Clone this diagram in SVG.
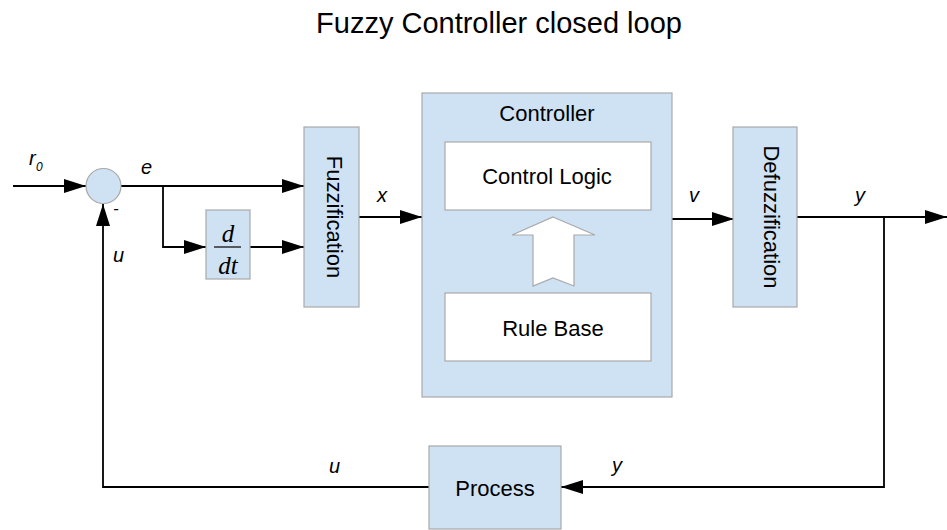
<svg xmlns="http://www.w3.org/2000/svg" width="947" height="530" viewBox="0 0 947 530">
  <style>
    .block { fill: #cfe2f3; stroke: #a9a9a9; stroke-width: 1.2; }
    .inner { fill: #ffffff; stroke: #a9a9a9; stroke-width: 1.2; }
    .wire { fill: none; stroke: #000000; stroke-width: 1.8; }
    .lbl { font-family: "Liberation Sans", Arial, sans-serif; font-size: 22px; fill: #000000; }
    .var { font-family: "Liberation Sans", Arial, sans-serif; font-size: 20px; font-style: italic; fill: #000000; }
    .var.sub { font-size: 12px; }
    .var.sign { font-size: 17px; }
    .math { font-family: "Liberation Serif", "Times New Roman", serif; font-size: 25px; font-style: italic; fill: #000000; }
    .title { font-family: "Liberation Sans", Arial, sans-serif; font-size: 29px; fill: #000000; }
  </style>
  <defs>
    <marker id="head" markerUnits="userSpaceOnUse" markerWidth="23" markerHeight="14" refX="22" refY="7" orient="auto">
      <path d="M0,0 L22,7 L0,14 z" fill="#000000"/>
    </marker>
  </defs>

  <rect width="947" height="530" fill="#ffffff"/>

  <text class="title" x="499" y="33" text-anchor="middle">Fuzzy Controller closed loop</text>

  <!-- signal wiring -->
  <g id="connectors">
    <line class="wire" x1="13" y1="186" x2="86" y2="186" marker-end="url(#head)"/>
    <line class="wire" x1="121" y1="186" x2="304" y2="186" marker-end="url(#head)"/>
    <polyline class="wire" points="163,186 163,247 206,247" marker-end="url(#head)"/>
    <line class="wire" x1="250" y1="247" x2="304" y2="247" marker-end="url(#head)"/>
    <line class="wire" x1="359" y1="217" x2="422" y2="217" marker-end="url(#head)"/>
    <line class="wire" x1="672" y1="219" x2="734" y2="219" marker-end="url(#head)"/>
    <line class="wire" x1="797" y1="217" x2="947" y2="217" marker-end="url(#head)"/>
    <polyline class="wire" points="884,217 884,487 561,487" marker-end="url(#head)"/>
    <polyline class="wire" points="429,487 103,487 103,204" marker-end="url(#head)"/>
  </g>

  <!-- signal names -->
  <g id="labels">
    <text class="var" x="29" y="165">r</text>
    <text class="var sub" x="36" y="171">0</text>
    <text class="var" x="141" y="174">e</text>
    <text class="var sign" x="113" y="214">-</text>
    <text class="var" x="113" y="262">u</text>
    <text class="var" x="377" y="202">x</text>
    <text class="var" x="689" y="202">v</text>
    <text class="var" x="855" y="202">y</text>
    <text class="var" x="612" y="472">y</text>
    <text class="var" x="329" y="473">u</text>
  </g>

  <g id="sum">
    <circle class="block" cx="103.5" cy="186" r="17.5"/>
  </g>

  <g id="derivative">
    <rect class="block" x="206" y="210" width="44" height="69"/>
    <text class="math" x="228" y="242" text-anchor="middle">d</text>
    <line x1="214" y1="247" x2="241" y2="247" stroke="#000000" stroke-width="1.2"/>
    <text class="math" x="228" y="274" text-anchor="middle">dt</text>
  </g>

  <g id="fuzzification">
    <rect class="block" x="304" y="127" width="55" height="180"/>
    <text class="lbl" transform="translate(327,217) rotate(90)" text-anchor="middle">Fuzzification</text>
  </g>

  <g id="controller">
    <rect class="block" x="422" y="93" width="250" height="304"/>
    <text class="lbl" x="547" y="121" text-anchor="middle">Controller</text>
    <g id="control-logic">
      <rect class="inner" x="445" y="142" width="206" height="68"/>
      <text class="lbl" x="547" y="184" text-anchor="middle">Control Logic</text>
    </g>
    <g id="rule-base">
      <rect class="inner" x="445" y="293" width="206" height="68"/>
      <text class="lbl" x="553" y="336" text-anchor="middle">Rule Base</text>
    </g>
    <path class="inner" d="M553,217 L595,235 L574,235 L574,286 L553,278 L533,286 L533,235 L512,235 z"/>
  </g>

  <g id="defuzzification">
    <rect class="block" x="733" y="127" width="64" height="180"/>
    <text class="lbl" transform="translate(764,217) rotate(90)" text-anchor="middle">Defuzzification</text>
  </g>

  <g id="process">
    <rect class="block" x="429" y="446" width="132" height="83"/>
    <text class="lbl" x="495" y="496" text-anchor="middle">Process</text>
  </g>
</svg>
